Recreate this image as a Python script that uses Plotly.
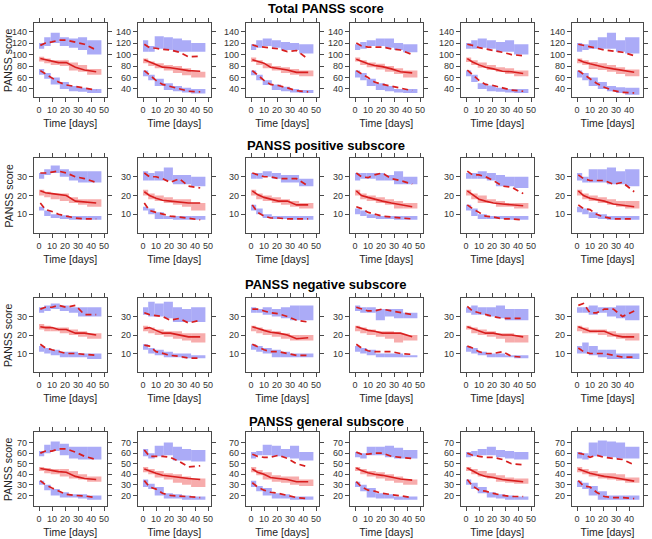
import plotly.graph_objects as go

# ---------------- data ----------------
ROW_TITLES = ["Total PANSS score", "PANSS positive subscore",
              "PANSS negative subscore", "PANSS general subscore"]
TIME_BINS = [0, 4, 9, 16, 23, 30, 37, 48]          # bin edges of the prediction intervals
OBS_TIME = [1, 5, 10, 15, 21, 28, 35, 44]          # observed percentile times
X_TICKS = [0, 10, 20, 30, 40, 50]
X_TICKS_LAST = [0, 10, 20, 30, 40]
Y_TICKS = [[40, 60, 80, 100, 120, 140], [10, 20, 30], [10, 20, 30], [20, 30, 40, 50, 60, 70]]

# ---- Total PANSS score (6 panels each) ----
TOTAL_UP_LO = [[110,115,120,115,112,108,100],[105,105,110,108,105,105,105],[108,112,115,112,108,108,102],
               [108,110,115,115,112,108,104],[110,110,112,110,105,105,100],[105,108,110,110,110,105,102]]
TOTAL_UP_HI = [[120,130,138,130,128,130,125],[125,115,132,130,128,125,120],[118,125,128,125,122,120,118],
               [118,122,125,128,128,120,118],[120,125,128,125,122,125,118],[120,118,125,130,138,125,130]]
TOTAL_MED_LO = [[88,85,82,80,72,70,65],[85,80,76,72,68,64,60],[87,82,76,72,68,65,62],
                [88,82,78,74,70,66,60],[87,82,77,73,70,66,62],[85,82,75,73,70,66,62]]
TOTAL_MED_HI = [[96,93,90,90,86,82,75],[93,88,85,82,80,76,70],[95,90,85,80,78,75,72],
                [95,90,86,84,80,76,72],[95,90,86,82,78,76,72],[93,90,87,85,82,78,74]]
TOTAL_LOW_LO = [[65,58,48,40,36,35,33],[62,55,45,38,36,34,32],[64,55,47,38,36,34,33],
                [60,55,45,38,36,34,33],[62,52,40,36,35,34,33],[60,55,45,40,36,33,30]]
TOTAL_LOW_HI = [[75,68,60,52,45,42,40],[72,65,58,50,45,42,40],[72,65,55,48,44,40,38],
                [72,68,58,50,45,40,40],[72,65,50,46,42,40,40],[72,68,60,52,45,43,42]]
TOTAL_OBS95 = [[116,120,122,125,125,122,118,108],[118,112,111,109,108,104,96,97],[117,114,113,112,110,105,107,92],
               [120,115,113,113,113,110,108,100],[118,116,112,110,108,104,100,98],[118,116,113,110,108,106,104,98]]
TOTAL_OBS50 = [[93,91,88,86,86,78,73,70],[91,87,82,78,77,75,72,71],[91,88,85,78,76,73,69,69],
               [92,88,84,81,79,75,70,68],[93,87,82,78,75,71,70,67],[91,87,84,81,78,75,72,69]]
TOTAL_OBS05 = [[72,66,58,52,47,44,41,38],[72,65,55,48,44,40,36,35],[72,64,55,48,46,42,37,35],
               [72,67,60,52,48,45,42,37],[73,65,55,48,46,42,38,36],[72,66,58,50,43,37,34,33]]

# ---- PANSS positive subscore ----
POS_UP_LO = [[29,31,32,30,28,27,27],[28,28,28,28,26,26,25],[29,29,30,29,27,27,25],
             [28,29,29,28,28,26,26],[29,29,29,28,25,25,24],[28,27,27,27,26,26,25]]
POS_UP_HI = [[32,34,36,34,33,33,33],[33,32,33,35,31,31,30],[32,32,33,32,31,31,29],
             [32,32,32,32,31,33,30],[32,32,33,32,31,30,30],[32,30,34,34,35,33,34]]
POS_MED_LO = [[20,19,18,17,16,15,14],[20,18,17,16,15,14,12],[20,18,17,16,15,14,13],
              [20,18,17,16,15,13,13],[20,18,16,16,14,14,13],[20,18,17,16,15,14,13]]
POS_MED_HI = [[23,22,21,21,19,18,18],[23,21,20,19,18,18,16],[23,21,20,19,18,17,16],
              [23,21,20,19,18,17,16],[23,21,20,18,17,16,16],[23,21,20,19,18,17,17]]
POS_LOW_LO = [[12,9,8,7.5,7,7,7],[12,10,7.5,7.5,7,7,7],[12,10,8,7.5,7.5,7,7],
              [10,9,8,7.5,7.5,7,7],[12,9,7.5,7.5,7.5,7,7],[11,10,8,7.5,7,7,7]]
POS_LOW_HI = [[14,12,10,9.5,9,9,9],[14,13,11,9,9,9,9],[15,13,10,9,9,9,9],
              [13,12,10,9,9,9,9],[15,13,10,9,9,9,9],[14,13,11,10,9,9,9]]
POS_OBS95 = [[32,32,32.5,33,32,30,29,27],[32,30,30,29,27,29,25,24],[32,31,30,30,29,29,29,25],
             [32,30,29.5,31,32,29,28,26],[33,31,31,30,28,25,24.5,21],[31,29,28,28,28,26,27,22]]
POS_OBS50 = [[22.5,21.5,21,20.5,20,17,16.5,16],[22,20,18.5,17.5,17,16.5,16,16],[22.5,20.5,19,18,17,17,15,15],
             [22.5,20,19,18,17,16,15,14],[22.5,20.5,18,17,16,15.5,15,14.5],[22.5,20,18.5,18,17,15.5,15,14]]
POS_OBS05 = [[16,12.5,11.5,10,9,8,7.5,7.5],[16,12,11,10,9,8.5,8,7],[15,11,9,8,8,7.5,7.5,7.5],
             [14,13,11,10,9,8.5,8,7.5],[15,13,11,9,8.5,7.5,7.5,7],[15,13,12.5,10,8.5,7.5,7.5,7.5]]

# ---- PANSS negative subscore ----
NEG_UP_LO = [[32,33,34,33,32,30,30],[31,30,30,29,27,27,27],[32,32,31,30,29,28,28],
             [33,32,32,28,30,29,29],[32,31,31,30,29,28,28],[32,32,31,32,30,29,28]]
NEG_UP_HI = [[35,36,37,36,35,35,35],[35,38,37,38,35,34,35],[35,34,35,34,35,36,36],
             [36,35,35,34,34,34,32],[35,36,35,35,36,34,34],[35,35,36,35,35,36,36]]
NEG_MED_LO = [[23,22,22,21,20,19,18],[22,21,20,19,18,17,16],[22,21,20,19,18,17,17],
              [22,21,20,19,18,16,17],[23,21,20,19,18,16,16],[22,21,21,20,19,18,17]]
NEG_MED_HI = [[26,25,24,24,23,22,21],[25,24,23,22,22,21,21],[25,24,23,22,21,20,20],
              [25,24,23,22,22,21,20],[25,24,23,22,21,21,20],[25,24,23,23,22,21,21]]
NEG_LOW_LO = [[11,10,9,8,8,8,7],[12,10,9,8,8,7.5,7.5],[12,11,10,8,8,8,8],
              [11,10,9,8,8,8,8],[11,10,9,8,8,8,7.5],[10,10,9,8,7,7,7]]
NEG_LOW_HI = [[14,13,12,11,11,10,10],[15,13,12,11,10,10,9],[15,14,13,12,11,10,10],
              [14,13,12,10,10,10,9],[14,13,11,10,10,9,9],[14,16,14,12,12,10,10]]
NEG_OBS95 = [[34,35,35,36,35,36,31,31],[32,31,30.5,30,28,29,26.5,28],[34,34,33,32,31.5,30,28,27],
             [35,34,33,33,34,33,32,31],[35.5,33,32,31,30,29,29,29],[36,37,32,32,34,34,30,33]]
NEG_OBS50 = [[24.5,24,24,23,23,21,21,20],[23.5,24,22.5,21,21,20,19,19],[24.5,23.5,22.5,21.5,21,20,18,18.5],
             [24.5,23.5,22.5,22,21,21,21,19],[24.5,23.5,22,21,21,20,20,19],[24.5,23.5,22,22,22,20,19,19]]
NEG_OBS05 = [[15,13,12,11,10,10,9.5,9],[14.5,14,11,10,9,8.5,7.5,7.5],[15,13.5,12,11,11,10,9,9],
             [15,13,11.5,11,11,11,10,9.5],[14,13,11,10,10,11,8.5,8],[13,11,10,10,10,9,8,8]]

# ---- PANSS general subscore ----
GEN_UP_LO = [[57,60,62,58,55,54,54],[57,55,57,58,53,53,52],[55,58,58,57,56,55,53],
             [56,55,58,58,56,55,55],[56,57,58,58,56,55,54],[55,54,57,57,56,55,55]]
GEN_UP_HI = [[62,68,71,69,66,66,66],[64,60,67,70,66,64,63],[61,62,68,67,64,67,61],
             [61,60,66,66,67,65,63],[61,62,64,66,63,62,61],[61,60,70,72,71,70,66]]
GEN_MED_LO = [[43,41,40,38,36,35,33],[42,40,37,35,32,30,28],[42,39,35,33,32,30,29],
              [43,40,38,36,34,32,30],[43,40,38,36,33,32,31],[42,40,38,36,35,34,32]]
GEN_MED_HI = [[47,46,45,45,43,40,38],[47,45,43,41,40,38,36],[47,44,42,39,38,38,35],
              [47,45,43,42,40,38,35],[47,45,43,41,39,37,36],[47,45,43,41,41,40,37]]
GEN_LOW_LO = [[30,25,20,18,18,17,16],[28,26,20,17,17,16,16],[28,24,20,17,17,16,16],
              [28,24,18,17,17,16,16],[30,26,22,18,17,16,16],[28,26,20,16,16,16,16]]
GEN_LOW_HI = [[34,30,26,23,21,21,20],[35,31,28,22,21,20,19],[34,29,27,22,21,19,19],
              [33,30,27,22,21,19,19],[35,32,28,23,21,20,19],[34,32,29,24,20,20,20]]
GEN_OBS95 = [[60,62,62,64,64,61,57,54],[63,57,57,57,56,52,47,48],[59,57,56,56,58,55,50,47],
             [61,59,59,60,60,57,56,55],[60,58,57,56,56,54,50,49],[60,59,56,58,56,55,54,49]]
GEN_OBS50 = [[45.5,44.5,43.5,42.5,42,38,36,35],[45,43,41,39,38,37,36,35],[45,42,40,37,36,35,33,33],
             [46,43.5,41.5,40,39,37,35.5,34.5],[46,43,40,38,37,35,34,33],[45,43,41,39.5,38,37,35.5,33.5]]
GEN_OBS05 = [[34,30,27,24,21,20,19.5,18],[34,28,26,22,20,19.5,18.5,18],[32,28,25,23,22,20,18,17],
             [33,28,25,24,22,21,20,18],[35,29,25,24,22,20,19,19],[34,29,28,23,19,18,18,17]]

ROWS = [
    (TOTAL_UP_LO, TOTAL_UP_HI, TOTAL_MED_LO, TOTAL_MED_HI, TOTAL_LOW_LO, TOTAL_LOW_HI,
     TOTAL_OBS95, TOTAL_OBS50, TOTAL_OBS05),
    (POS_UP_LO, POS_UP_HI, POS_MED_LO, POS_MED_HI, POS_LOW_LO, POS_LOW_HI,
     POS_OBS95, POS_OBS50, POS_OBS05),
    (NEG_UP_LO, NEG_UP_HI, NEG_MED_LO, NEG_MED_HI, NEG_LOW_LO, NEG_LOW_HI,
     NEG_OBS95, NEG_OBS50, NEG_OBS05),
    (GEN_UP_LO, GEN_UP_HI, GEN_MED_LO, GEN_MED_HI, GEN_LOW_LO, GEN_LOW_HI,
     GEN_OBS95, GEN_OBS50, GEN_OBS05),
]

# ---------------- layout / style ----------------
W, H = 652, 539
FONT = "Liberation Sans, Arial, sans-serif"
BLUE = "#ABABF7"
PINK = "#F7ACAC"
RED = "#D81E1E"
AXIS = "#4a4a4a"

COL_ZERO = [39, 143, 251, 355, 466, 577]   # pixel position of x = 0 per column
PX_PER_DAY = 1.3
X_RANGE = [-4, 52]
X_RANGE_LAST = [-4, 51]
ROW_TOP = [23, 158, 298, 432]
ROW_BOTTOM = [97, 233, 372, 506]
Y_RANGES = [[26, 155], [0, 40], [0, 40], [10, 80]]
TITLE_Y = [8, 145, 284, 421]

mid = [(TIME_BINS[i] + TIME_BINS[i + 1]) / 2 for i in range(len(TIME_BINS) - 1)]
wid = [TIME_BINS[i + 1] - TIME_BINS[i] for i in range(len(TIME_BINS) - 1)]

fig = go.Figure()
layout = dict(width=W, height=H, margin=dict(l=0, r=0, t=0, b=0, autoexpand=False),
              paper_bgcolor="white", plot_bgcolor="white", showlegend=False,
              barmode="overlay", font=dict(family=FONT, size=9, color="#333"))

ann = []
for r in range(4):
    data = ROWS[r]
    for c in range(6):
        n = r * 6 + c + 1
        xs = "x" if n == 1 else f"x{n}"
        ys = "y" if n == 1 else f"y{n}"
        # bands
        for lo_arr, hi_arr, col in ((data[0], data[1], BLUE), (data[2], data[3], PINK), (data[4], data[5], BLUE)):
            lo = lo_arr[c]
            hi = hi_arr[c]
            fig.add_trace(go.Bar(x=mid, y=[h - l for h, l in zip(hi, lo)], base=lo, width=wid,
                                 marker=dict(color=col, line=dict(width=0)),
                                 xaxis=xs, yaxis=ys, hoverinfo="skip"))
        # observed lines
        fig.add_trace(go.Scatter(x=OBS_TIME, y=data[6][c], mode="lines",
                                 line=dict(color=RED, width=1.7, dash="6px,4px"),
                                 xaxis=xs, yaxis=ys))
        fig.add_trace(go.Scatter(x=OBS_TIME, y=data[7][c], mode="lines",
                                 line=dict(color=RED, width=1.6),
                                 xaxis=xs, yaxis=ys))
        fig.add_trace(go.Scatter(x=OBS_TIME, y=data[8][c], mode="lines",
                                 line=dict(color=RED, width=1.7, dash="6px,4px"),
                                 xaxis=xs, yaxis=ys))

        xr = X_RANGE_LAST if c == 5 else X_RANGE
        left = COL_ZERO[c] + xr[0] * PX_PER_DAY
        right = COL_ZERO[c] + xr[1] * PX_PER_DAY
        xk = "xaxis" if n == 1 else f"xaxis{n}"
        yk = "yaxis" if n == 1 else f"yaxis{n}"
        common = dict(showgrid=False, zeroline=False, showline=True, linecolor=AXIS, linewidth=1,
                      ticks="outside", ticklen=4, tickcolor=AXIS, tickwidth=1, mirror="ticks",
                      automargin=False,
                      tickfont=dict(size=9, color="#333", family=FONT), fixedrange=True)
        layout[xk] = dict(common, domain=[left / W, right / W], range=xr, anchor=ys,
                          tickmode="array", tickvals=X_TICKS_LAST if c == 5 else X_TICKS,
                          title=dict(text="Time [days]", font=dict(size=10.5, color="#222", family=FONT),
                                     standoff=5))
        layout[yk] = dict(common, domain=[1 - ROW_BOTTOM[r] / H, 1 - ROW_TOP[r] / H],
                          range=Y_RANGES[r], anchor=xs, tickmode="array", tickvals=Y_TICKS[r])
    ann.append(dict(text=f"<b>{ROW_TITLES[r]}</b>", x=0.5, y=1 - TITLE_Y[r] / H, xref="paper", yref="paper",
                    showarrow=False, xanchor="center", yanchor="middle",
                    font=dict(size=13, color="black", family=FONT)))
    ann.append(dict(text="PANSS score", x=8 / W, y=1 - (ROW_TOP[r] + ROW_BOTTOM[r]) / 2 / H,
                    xref="paper", yref="paper", showarrow=False, textangle=-90,
                    xanchor="center", yanchor="middle",
                    font=dict(size=10.5, color="#222", family=FONT)))

layout["annotations"] = ann
fig.update_layout(**layout)
fig.write_html("out.html", config={"displayModeBar": False, "staticPlot": True},
               post_script="document.body.style.margin='0px';document.body.style.overflow='hidden';")
